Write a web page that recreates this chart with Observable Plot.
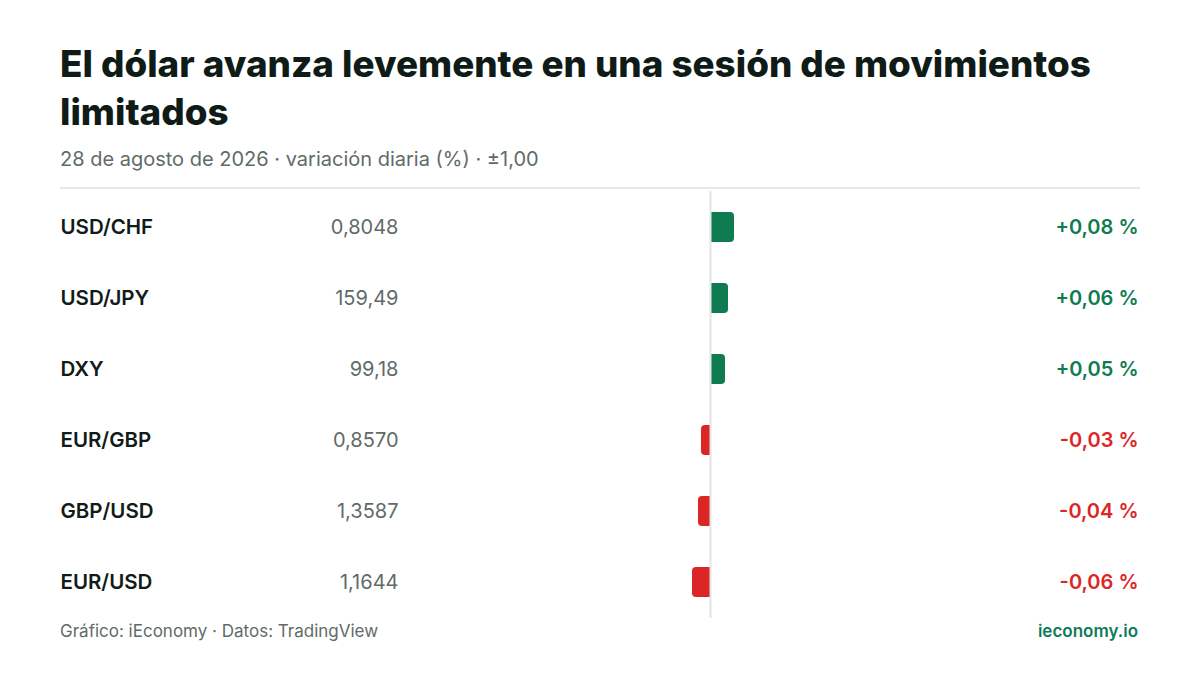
<!DOCTYPE html>
<html>
<head>
<meta charset="utf-8">
<script src="https://cdn.jsdelivr.net/npm/d3@7"></script>
<script src="https://cdn.jsdelivr.net/npm/@observablehq/plot@0.6"></script>
<style>
  html, body { margin: 0; padding: 0; background: #ffffff; }
  body { position: relative; width: 1200px; height: 675px; overflow: hidden; font-family: Inter, "Noto Sans", sans-serif; }
  h1 { position: absolute; left: 60px; top: 40px; width: 1080px; margin: 0; font-size: 36.8px; line-height: 48px; font-weight: 800; color: #0f1b17; }
  .sub { position: absolute; left: 60px; top: 146px; margin: 0; font-size: 20px; line-height: 26px; color: #5f6b68; }
  .divider { position: absolute; left: 60px; top: 187px; width: 1080px; height: 2px; background: #e5e9e7; }
  #chart { position: absolute; left: 0; top: 187px; width: 1200px; height: 433px; }
  #chart svg { display: block; max-width: none !important; width: 1200px !important; height: 433px !important; }
  .foot { position: absolute; left: 60px; top: 620px; width: 1078px; display: flex; justify-content: space-between; font-size: 17px; line-height: 22px; color: #5f6b68; }
  .foot b { color: #0f7b5a; font-weight: 600; }
</style>
</head>
<body>
  <h1>El dólar avanza levemente en una sesión de movimientos limitados</h1>
  <div class="sub">28 de agosto de 2026 · variación diaria (%) · ±1,00</div>
  <div class="divider"></div>
  <div id="chart"></div>
  <div class="foot"><span>Gráfico: iEconomy · Datos: TradingView</span><b>ieconomy.io</b></div>
<script>
const pairs = ["USD/CHF", "USD/JPY", "DXY", "EUR/GBP", "GBP/USD", "EUR/USD"];
const prices = ["0,8048", "159,49", "99,18", "0,8570", "1,3587", "1,1644"];
const changes = [0.08, 0.06, 0.05, -0.03, -0.04, -0.06];
const xDomain = [-1, 1];

const rows = pairs.map((p, i) => ({pair: p, price: prices[i], change: changes[i]}));
const loc = d3.formatLocale({decimal: ",", thousands: ".", grouping: [3], currency: ["", ""], minus: "-"});
const fmt = loc.format("+.2f");
const green = "#0f7b50", red = "#dc2626";

const plot = Plot.plot({
  width: 1200,
  height: 433,
  marginLeft: 60,
  marginRight: 62,
  marginTop: 4,
  marginBottom: 2,
  x: {domain: xDomain, range: [410, 1010], axis: null},
  y: {domain: pairs, paddingInner: 0.578, paddingOuter: 0.289, axis: null},
  style: {fontFamily: "Inter, sans-serif", background: "transparent"},
  marks: [
    Plot.barX(rows.filter(d => d.change >= 0), {y: "pair", x1: 0, x2: "change", fill: green, rx2y1: 4, rx2y2: 4}),
    Plot.barX(rows.filter(d => d.change < 0), {y: "pair", x1: "change", x2: 0, fill: red, rx1y1: 4, rx1y2: 4}),
    Plot.ruleX([0], {stroke: "#e2e6e4", strokeWidth: 2}),
    Plot.text(rows, {y: "pair", text: "pair", frameAnchor: "left", textAnchor: "start", fontSize: 20.5, fontWeight: 600, fill: "#111b18"}),
    Plot.text(rows, {y: "pair", text: "price", frameAnchor: "left", dx: 338, textAnchor: "end", fontSize: 20, fill: "#5f6b68"}),
    Plot.text(rows, {y: "pair", text: d => fmt(d.change) + " %", frameAnchor: "right", textAnchor: "end", fontSize: 20, fontWeight: 600, fill: d => d.change >= 0 ? green : red})
  ]
});
document.getElementById("chart").appendChild(plot);
</script>
</body>
</html>
